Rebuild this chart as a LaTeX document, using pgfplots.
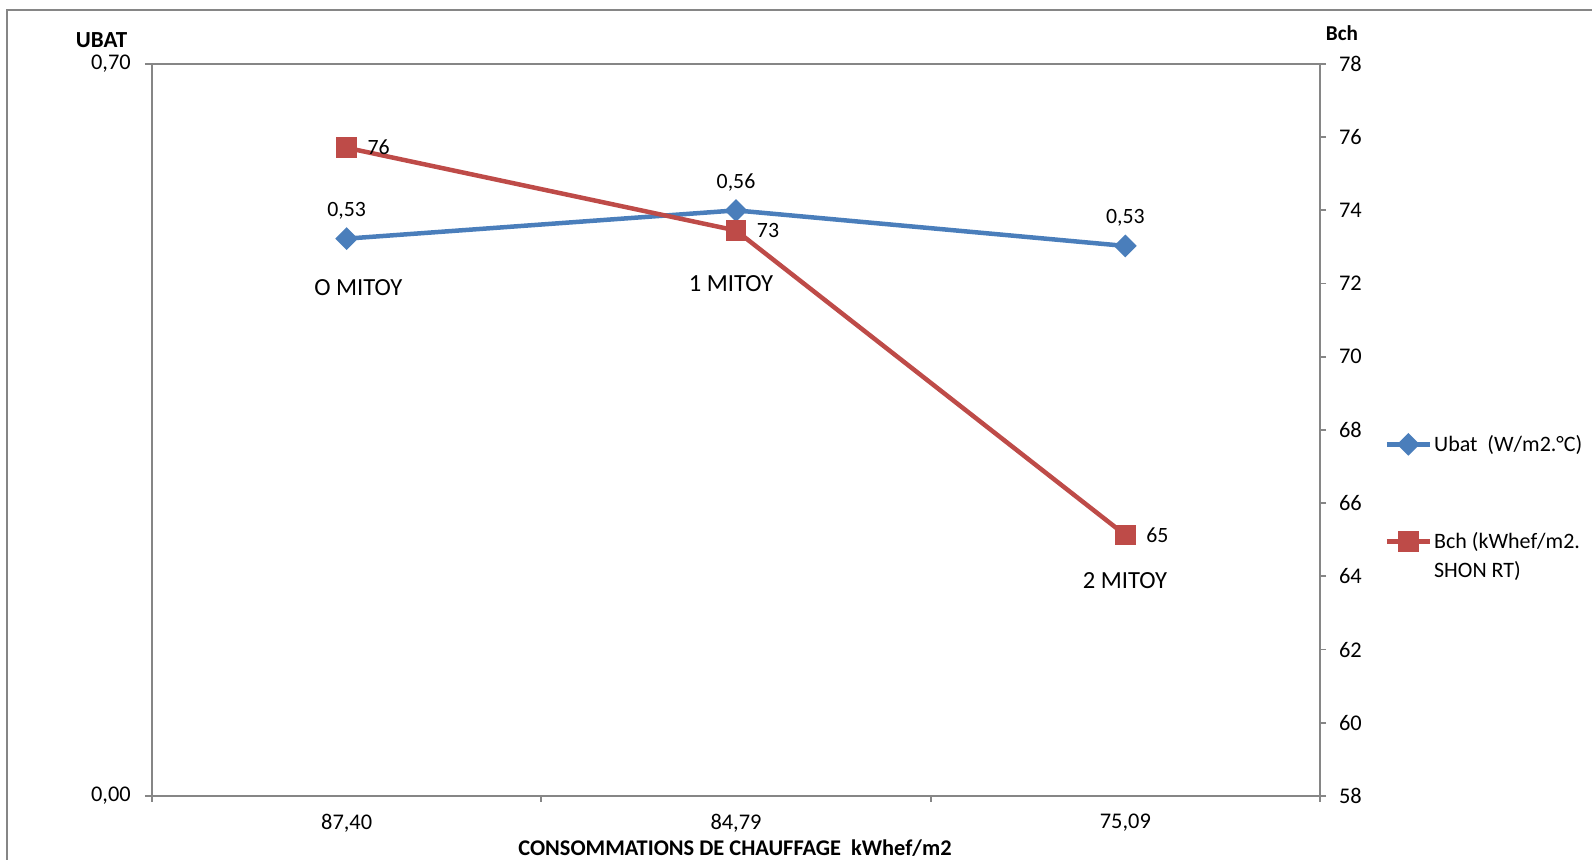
\documentclass[border=0pt]{standalone}
\usepackage{pgfplots}
\pgfplotsset{compat=1.18}
\usepackage{fontspec}
\setmainfont{Carlito}
\definecolor{axgray}{HTML}{868686}
\definecolor{ublue}{HTML}{4A7EBB}
\definecolor{bred}{HTML}{BE4B48}
\pgfkeys{/pgf/number format/assume math mode=true}
\newcommand{\tfont}{\fontsize{11.2}{13}\selectfont}
\newcommand{\dfont}{\fontsize{10.9}{13}\selectfont}
\begin{document}
\begin{tikzpicture}
\useasboundingbox (0,0) rectangle (796pt,430pt);
\draw[axgray, line width=1pt] (796pt,425pt) -- (3.5pt,425pt) -- (3.5pt,0pt);
\begin{axis}[
  at={(76pt,32pt)}, anchor=south west,
  scale only axis, width=584pt, height=366pt,
  xmin=-0.5, xmax=2.5, ymin=0, ymax=0.7,
  axis line style={axgray, line width=0.9pt},
  tick style={axgray, line width=0.9pt},
  tick align=outside,
  xtick={0,1,2}, xticklabels={{87,40},{84,79},{75,09}},
  major x tick style={draw=none},
  minor xtick={-0.5,0.5,1.5,2.5},
  minor tick length=3pt,
  xtick pos=bottom,
  ytick={0,0.7}, ytick pos=left,
  major tick length=3.5pt,
  yticklabel={\pgfmathprintnumber[fixed,fixed zerofill,precision=2,use comma]{\tick}},
  tick label style={font=\tfont},
  ticklabel style={text=black},
  xticklabel style={yshift=-2pt},
  yticklabel style={xshift=-3.6pt},
  nodes near coords={\pgfmathprintnumber[fixed,fixed zerofill,precision=2,use comma]{\pgfplotspointmeta}},
  every node near coord/.append style={font=\dfont, anchor=base, yshift=11pt, text=black},
  clip=false,
]
\addplot[ublue, line width=2.25pt, mark=square*, mark size=2.9pt, mark options={rotate=45, solid}] coordinates {(0,0.533) (1,0.560) (2,0.526)};
\node[font=\fontsize{12.3}{14}\selectfont, anchor=base] at (axis cs:0.03,0.4783) {O MITOY};
\node[font=\fontsize{12.3}{14}\selectfont, anchor=base] at (axis cs:0.987,0.4828) {1 MITOY};
\node[font=\fontsize{12.3}{14}\selectfont, anchor=base] at (axis cs:1.999,0.1981) {2 MITOY};
\end{axis}
\begin{axis}[
  at={(76pt,32pt)}, anchor=south west,
  scale only axis, width=584pt, height=366pt,
  xmin=-0.5, xmax=2.5, ymin=58, ymax=78,
  axis x line=none, axis y line*=right,
  axis line style={axgray, line width=0.9pt},
  tick style={axgray, line width=0.9pt},
  tick align=outside, major tick length=3pt,
  ytick={58,60,...,78},
  yticklabel style={font=\tfont, text=black, xshift=3pt},
  nodes near coords={\pgfmathprintnumber[fixed,precision=0]{\pgfplotspointmeta}},
  every node near coord/.append style={font=\dfont, anchor=base, xshift=16pt, yshift=-3.5pt, text=black},
  clip=false,
  legend image code/.code={\draw[#1, mark repeat=2, mark phase=2] plot coordinates {(0pt,3.6pt) (10.75pt,3.6pt) (21.5pt,3.6pt)};},
  legend style={at={(axis description cs:1.055,0.4986)}, anchor=north west, draw=none, fill=none,
    inner sep=0pt, row sep=35pt, column sep=-1pt,
    font=\fontsize{11}{14.5}\selectfont, cells={anchor=base west}},
]
\addlegendimage{ublue, line width=2.25pt, mark=square*, mark size=2.9pt, mark options={rotate=45, solid}}
\addlegendentry{Ubat\ \ (W/m2.°C)}
\addplot[bred, line width=2.25pt, mark=square*, mark size=4.1pt, mark options={solid}] coordinates {(0,75.71) (1,73.45) (2,65.13)};
\addlegendentry{\vtop{\hbox{Bch (kWhef/m2.}\hbox{SHON RT)}}}
\end{axis}
\node[font=\bfseries\fontsize{11.5}{13}\selectfont, anchor=base] at (50.75pt,406.25pt) {UBAT};
\node[font=\bfseries\fontsize{10.6}{12}\selectfont, anchor=base] at (671pt,409.6pt) {Bch};
\node[font=\bfseries\fontsize{11.2}{13}\selectfont, anchor=base] at (367.5pt,2.25pt) {CONSOMMATIONS DE CHAUFFAGE\ \ kWhef/m2};
\end{tikzpicture}
\end{document}
